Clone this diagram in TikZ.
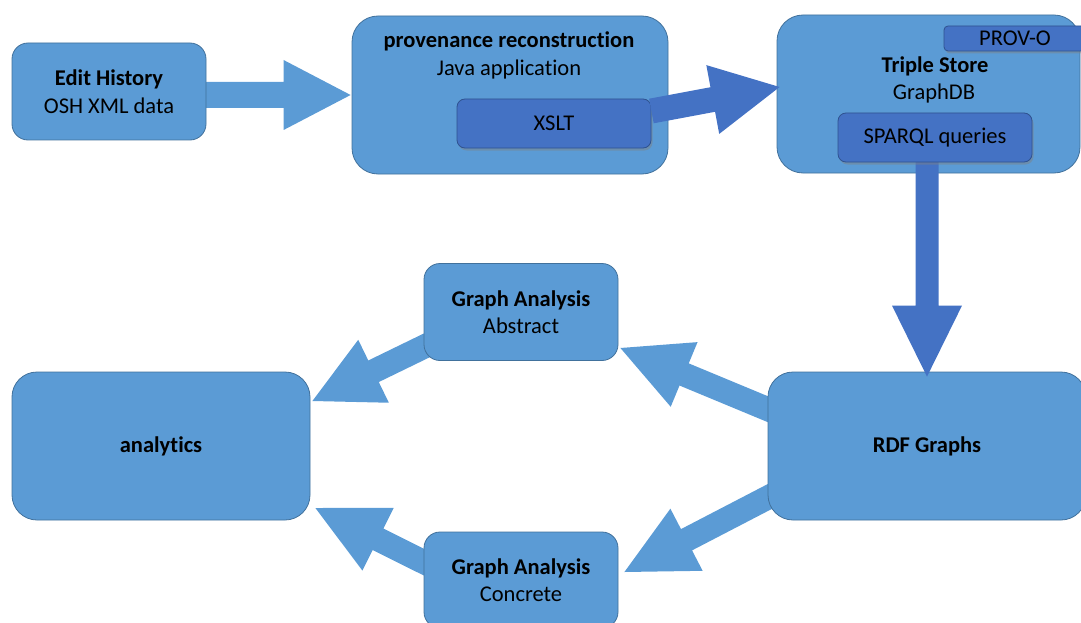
\documentclass[tikz,border=0pt]{standalone}
\usepackage{fontspec}
\setmainfont[Ligatures=NoCommon]{Carlito}
\usetikzlibrary{calc,shadows,backgrounds}

\definecolor{boxblue}{HTML}{5B9BD5}
\definecolor{boxedge}{HTML}{41719C}
\definecolor{darkblue}{HTML}{4472C4}
\definecolor{darkedge}{HTML}{2F528F}

% Block arrow: #1 fill style, #2 start, #3 tip,
% #4 half shaft width, #5 half head width, #6 head length
\newcommand\blockarrow[6]{%
  \coordinate (ba-base) at ($(#3)!#6!(#2)$);
  \fill[#1] ($(#2)!#4!90:(#3)$) -- ($(ba-base)!#4!-90:(#2)$)
    -- ($(ba-base)!#5!-90:(#2)$) -- (#3) -- ($(ba-base)!#5!90:(#2)$)
    -- ($(ba-base)!#4!90:(#2)$) -- ($(#2)!#4!-90:(#3)$) -- cycle;
}

\begin{document}
\begin{tikzpicture}[x=1pt,y=-1pt,
  txt/.style={font=\fontsize{22.5}{27.5}\selectfont},
  box/.style={txt, rectangle, draw=boxedge, line width=0.8pt, fill=boxblue,
    inner sep=0pt, align=center},
  inbox/.style={txt, rectangle, draw=darkedge, line width=0.8pt, fill=darkblue,
    inner sep=0pt, align=center,
    drop shadow={shadow xshift=1.5pt, shadow yshift=-2.5pt, opacity=0.45}},
  lbl/.style={txt, anchor=base, inner sep=0pt},
  lightarrow/.style={fill=boxblue},
  darkarrow/.style={fill=darkblue},
]
\useasboundingbox (0,0) rectangle (1081,623);

% main boxes
\node[box, minimum width=194pt, minimum height=97pt, rounded corners=16pt] (edit) at (109,91.5) {\bfseries Edit History\\OSH XML data};
\node[box, minimum width=316pt, minimum height=158pt, rounded corners=26pt] (prov) at (510,95) {};
\node[box, minimum width=303pt, minimum height=158pt, rounded corners=26pt] (triple) at (928.5,94) {};
\node[box, minimum width=194pt, minimum height=97pt, rounded corners=16pt] (abstract) at (521,312) {\bfseries Graph Analysis\\Abstract};
\node[box, minimum width=194pt, minimum height=96pt, rounded corners=16pt] (concrete) at (521,580) {\bfseries Graph Analysis\\Concrete};
\node[box, minimum width=298pt, minimum height=148pt, rounded corners=25pt] (analytics) at (161,446) {\bfseries analytics};
\node[box, minimum width=318pt, minimum height=148pt, rounded corners=25pt] (rdf) at (927,446) {\bfseries RDF Graphs};

\node[lbl] (provtitle) at (509,48) {\bfseries provenance reconstruction};
\node[lbl] (provsub) at (509,76) {Java application};
\node[lbl] (tripletitle) at (935,73) {\bfseries Triple Store};
\node[lbl] (triplesub) at (934,100) {GraphDB};

% arrow end points
\coordinate (a1s) at ($(edit.east)+(-6,3.5)$);
\coordinate (a1t) at ($(prov.west)+(-1,0)$);
\coordinate (a4s) at ($(rdf.west)+(7,-34)$);
\coordinate (a4t) at ($(abstract.east)+(2,36)$);
\coordinate (a5s) at ($(abstract.west)+(6,32)$);
\coordinate (a5t) at ($(analytics.east)+(2,-45)$);
\coordinate (a6s) at ($(rdf.west)+(7,48)$);
\coordinate (a6t) at ($(concrete.east)+(6,-8)$);
\coordinate (a7s) at ($(concrete.west)+(6,-15)$);
\coordinate (a7t) at ($(analytics.east)+(5,62)$);

% light block arrows, behind the boxes
\begin{pgfonlayer}{background}
\blockarrow{lightarrow}{a1s}{a1t}{13pt}{35pt}{67pt}
\blockarrow{lightarrow}{a4s}{a4t}{12pt}{35pt}{69pt}
\blockarrow{lightarrow}{a5s}{a5t}{12pt}{35pt}{68pt}
\blockarrow{lightarrow}{a6s}{a6t}{12pt}{35pt}{70pt}
\blockarrow{lightarrow}{a7s}{a7t}{12pt}{35pt}{70pt}
\end{pgfonlayer}

% inner boxes and dark arrows
\node[inbox, minimum width=194pt, minimum height=49pt, rounded corners=8pt] (xslt) at (554,123.5) {XSLT};
\coordinate (a2s) at ($(xslt.east)+(0,-12.5)$);
\coordinate (a2t) at ($(triple.west)+(3,-7)$);
\blockarrow{darkarrow}{a2s}{a2t}{12.5pt}{35pt}{68pt}

\coordinate (sparqlfoot) at (927,162);
\coordinate (a3t) at ($(rdf.north)+(0,5)$);
\blockarrow{darkarrow}{sparqlfoot}{a3t}{11.5pt}{35pt}{71pt}

\node[inbox, minimum width=194pt, minimum height=49pt, rounded corners=8pt] (sparql) at (935,137.5) {SPARQL queries};
\node[inbox, minimum width=142pt, minimum height=25pt, rounded corners=4pt] (provo) at (1015,38.5) {PROV-O};
\end{tikzpicture}
\end{document}
